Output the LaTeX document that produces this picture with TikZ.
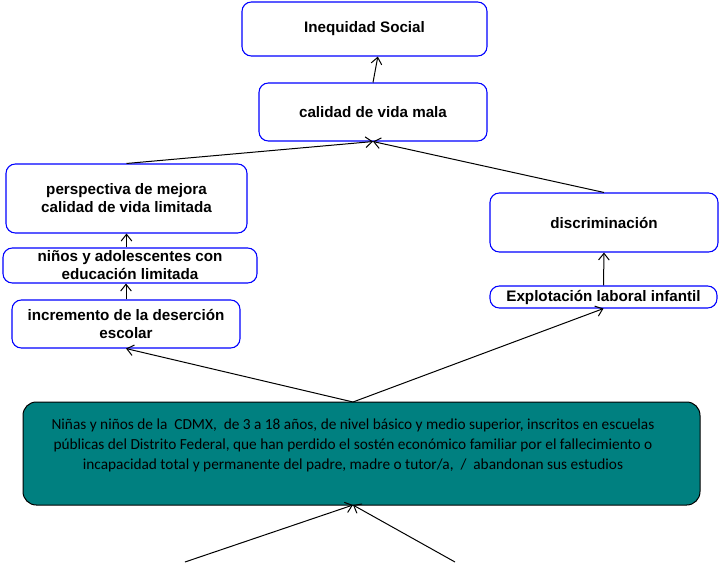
\documentclass[tikz,border=0pt]{standalone}
\usepackage{fontspec}
\setmainfont{Liberation Sans}
\newfontfamily\calibfont{Carlito}
\usetikzlibrary{arrows.meta}

\tikzset{
  effectbox/.style={draw={rgb, 255:red, 0; green, 0; blue, 255}, line width=0.8, rounded corners=7pt, inner sep=0.75pt, align=center, font=\bfseries\fontsize{11.4}{13.5}\selectfont},
  problembox/.style={draw={rgb, 255:red, 0; green, 0; blue, 0}, fill={rgb, 255:red, 0; green, 128; blue, 128}, line width=0.75, rounded corners=10pt, inner sep=0pt},
  link/.style={line width=0.75, -{Straight Barb[length=5pt,width=8pt]}}
}

\begin{document}
\begin{tikzpicture}[x=0.75pt,y=0.75pt,yscale=-1,xscale=1]
\useasboundingbox (0,0) rectangle (719,562);

% Text Node
\node (inequidad) at (364.5,29) [effectbox, minimum width=183.75pt, minimum height=40.5pt] {Inequidad Social};
% Text Node
\node (calidad) at (373,112) [effectbox, minimum width=171pt, minimum height=43.5pt] {calidad de vida mala};
% Text Node
\node (perspectiva) at (126.5,198.5) [effectbox, minimum width=180.75pt, minimum height=51.75pt] {perspectiva de mejora\\calidad de vida limitada};
% Text Node
\node (educacion) at (130,265.5) [effectbox, minimum width=190.5pt, minimum height=26.25pt] {niños y adolescentes con\\educación limitada};
% Text Node
\node (desercion) at (126,324) [effectbox, minimum width=171pt, minimum height=36pt] {incremento de la deserción\\escolar};
% Text Node
\node (discriminacion) at (604,222.5) [effectbox, minimum width=171pt, minimum height=44.25pt] {discriminación};
% Text Node
\node (explotacion) at (603.5,297) [effectbox, minimum width=170.25pt, minimum height=16.5pt] {Explotación laboral infantil};

% Problem box
\node (poblacion) at (361.5,453.5) [problembox, minimum width=507.75pt, minimum height=77.25pt] {};
% Text Node
\node (poblaciontxt) at (353,445) [inner sep=0.75pt, align=center, font=\calibfont\fontsize{11.5}{15}\selectfont] {Niñas y niños de la~ CDMX,~ de 3 a 18 años, de nivel básico y medio superior, inscritos en escuelas\\públicas del Distrito Federal, que han perdido el sostén económico familiar por el fallecimiento o\\incapacidad total y permanente del padre, madre o tutor/a,~ /~ abandonan sus estudios};

\coordinate (poblaciontop) at (353,402);
\coordinate (poblacionbot) at (353,505);
\coordinate (causea) at (185,562);
\coordinate (causeb) at (455,562);

%Straight Lines
\draw [link] (causea) -- (poblacionbot);
\draw [link] (causeb) -- (poblacionbot);
%Straight Lines
\draw [link] (poblaciontop) -- (desercion.south);
\draw [link] (poblaciontop) -- (explotacion.south);
%Straight Lines
\draw [link] (desercion.north) -- (desercion.north |- educacion.south);
\draw [link] (perspectiva.south |- educacion.north) -- (perspectiva.south);
\draw [link] (explotacion.north) -- (discriminacion.south);
%Straight Lines
\draw [link] (perspectiva.north) -- (calidad.south);
\draw [link] (discriminacion.north) -- (calidad.south);
\draw [link] (calidad.north) -- ([xshift=10pt]inequidad.south);

\end{tikzpicture}
\end{document}
